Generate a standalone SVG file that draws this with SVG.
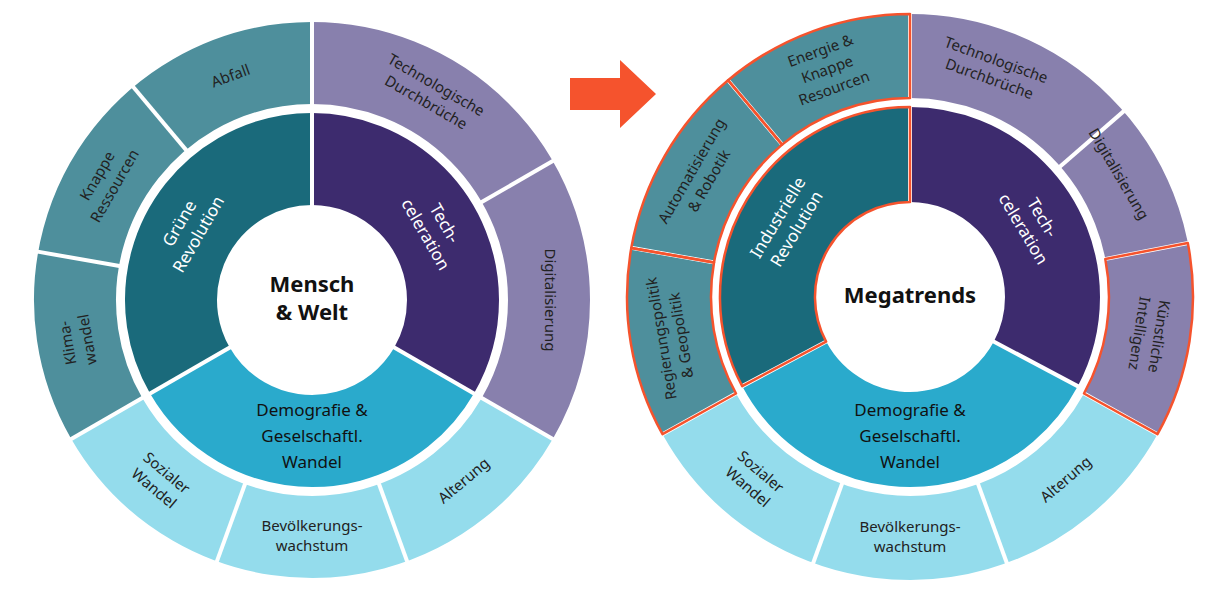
<svg xmlns="http://www.w3.org/2000/svg" width="1228" height="599" viewBox="0 0 1228 599">
<style>
text{font-family:"Noto Sans","Liberation Sans",sans-serif;text-anchor:middle;dominant-baseline:middle}
.o{font-size:15px;fill:#222}
.i{font-size:17px;fill:#fff}
.c{font-size:22px;font-weight:bold;fill:#111}
.sep{stroke:#fff;stroke-width:4}
.hl{fill:none;stroke:#f5532d;stroke-width:2.5;stroke-linejoin:round}
circle.s{fill:none}
</style>
<rect width="1228" height="599" fill="#fff"/>
<!-- LEFT WHEEL -->
<g id="left-inner">
<circle class="s" cx="312" cy="300" r="141" stroke="#3d2b6e" stroke-width="92" pathLength="360" stroke-dasharray="120 240" transform="rotate(-90 312 300)"/>
<circle class="s" cx="312" cy="300" r="141" stroke="#2aaacc" stroke-width="92" pathLength="360" stroke-dasharray="120 240" transform="rotate(30 312 300)"/>
<circle class="s" cx="312" cy="300" r="141" stroke="#1a6a7b" stroke-width="92" pathLength="360" stroke-dasharray="120 240" transform="rotate(150 312 300)"/>
</g>
<g id="left-outer">
<circle class="s" cx="312" cy="300" r="237" stroke="#4e8f9c" stroke-width="82" pathLength="360" stroke-dasharray="120 240" transform="rotate(150 312 300)"/>
<circle class="s" cx="312" cy="300" r="237" stroke="#8880ad" stroke-width="82" pathLength="360" stroke-dasharray="120 240" transform="rotate(-90 312 300)"/>
<circle class="s" cx="312" cy="300" r="237" stroke="#94dcec" stroke-width="82" pathLength="360" stroke-dasharray="120 240" transform="rotate(30 312 300)"/>
</g>
<g id="left-separators">
<g transform="translate(312 300)">
<line class="sep" x1="0" y1="0" x2="190" y2="0" transform="rotate(-90)"/>
<line class="sep" x1="0" y1="0" x2="190" y2="0" transform="rotate(30)"/>
<line class="sep" x1="0" y1="0" x2="190" y2="0" transform="rotate(150)"/>
<line class="sep" x1="194" y1="0" x2="280" y2="0" transform="rotate(-90)"/>
<line class="sep" x1="194" y1="0" x2="280" y2="0" transform="rotate(-30)"/>
<line class="sep" x1="194" y1="0" x2="280" y2="0" transform="rotate(30)"/>
<line class="sep" x1="194" y1="0" x2="280" y2="0" transform="rotate(70)"/>
<line class="sep" x1="194" y1="0" x2="280" y2="0" transform="rotate(110)"/>
<line class="sep" x1="194" y1="0" x2="280" y2="0" transform="rotate(150)"/>
<line class="sep" x1="194" y1="0" x2="280" y2="0" transform="rotate(190)"/>
<line class="sep" x1="194" y1="0" x2="280" y2="0" transform="rotate(230)"/>
</g>
</g>
<g id="left-labels">
<text class="c" x="312" y="286">Mensch</text>
<text class="c" x="312" y="314">&amp; Welt</text>
<g transform="translate(190 229.5) rotate(-60)"><text class="i" y="-11">Grüne</text><text class="i" y="11">Revolution</text></g>
<g transform="translate(434 229.5) rotate(60)"><text class="i" y="-11">Tech-</text><text class="i" y="11">celeration</text></g>
<g transform="translate(312 437)"><text class="i" fill="#111" style="fill:#111" y="-26">Demografie &amp;</text><text class="i" style="fill:#111" y="0">Geselschaftl.</text><text class="i" style="fill:#111" y="26">Wandel</text></g>
<g transform="translate(231 77) rotate(-20)"><text class="o">Abfall</text></g>
<g transform="translate(107 181.5) rotate(-60)"><text class="o" y="-10">Knappe</text><text class="o" y="10">Ressourcen</text></g>
<g transform="translate(78.6 341) rotate(-100)"><text class="o" y="-10">Klima-</text><text class="o" y="10">wandel</text></g>
<g transform="translate(159.6 481.5) rotate(40)"><text class="o" y="-10">Sozialer</text><text class="o" y="10">Wandel</text></g>
<g transform="translate(312 537)"><text class="o" y="-10">Bevölkerungs-</text><text class="o" y="10">wachstum</text></g>
<g transform="translate(464.4 481.5) rotate(-40)"><text class="o">Alterung</text></g>
<g transform="translate(549 300) rotate(90)"><text class="o">Digitalisierung</text></g>
<g transform="translate(430.5 94.7) rotate(30)"><text class="o" y="-10">Technologische</text><text class="o" y="10">Durchbrüche</text></g>
</g>
<!-- ARROW -->
<g id="arrow"><polygon points="570,78 620,78 620,60 656,94 620,128 620,110 570,110" fill="#f5532d"/></g>
<!-- RIGHT WHEEL -->
<g id="right-inner">
<circle class="s" cx="910" cy="297" r="142.5" stroke="#3d2b6e" stroke-width="95" pathLength="360" stroke-dasharray="118 242" transform="rotate(-90 910 297)"/>
<circle class="s" cx="910" cy="297" r="142.5" stroke="#2aaacc" stroke-width="95" pathLength="360" stroke-dasharray="124 236" transform="rotate(28 910 297)"/>
<circle class="s" cx="910" cy="297" r="142.5" stroke="#1a6a7b" stroke-width="95" pathLength="360" stroke-dasharray="118 242" transform="rotate(152 910 297)"/>
</g>
<g id="right-outer">
<circle class="s" cx="910" cy="297" r="241" stroke="#4e8f9c" stroke-width="84" pathLength="360" stroke-dasharray="119 241" transform="rotate(151 910 297)"/>
<circle class="s" cx="910" cy="297" r="241" stroke="#8880ad" stroke-width="84" pathLength="360" stroke-dasharray="119 241" transform="rotate(-90 910 297)"/>
<circle class="s" cx="910" cy="297" r="241" stroke="#94dcec" stroke-width="84" pathLength="360" stroke-dasharray="122 238" transform="rotate(29 910 297)"/>
</g>
<g id="right-separators">
<g transform="translate(910 297)">
<line class="sep" x1="0" y1="0" x2="192" y2="0" transform="rotate(-90)"/>
<line class="sep" x1="0" y1="0" x2="192" y2="0" transform="rotate(28)"/>
<line class="sep" x1="0" y1="0" x2="192" y2="0" transform="rotate(152)"/>
<line class="sep" x1="197" y1="0" x2="286" y2="0" transform="rotate(-90)"/>
<line class="sep" x1="197" y1="0" x2="286" y2="0" transform="rotate(-41)"/>
<line class="sep" x1="197" y1="0" x2="286" y2="0" transform="rotate(-11)"/>
<line class="sep" x1="197" y1="0" x2="286" y2="0" transform="rotate(29)"/>
<line class="sep" x1="197" y1="0" x2="286" y2="0" transform="rotate(70)"/>
<line class="sep" x1="197" y1="0" x2="286" y2="0" transform="rotate(110)"/>
<line class="sep" x1="197" y1="0" x2="286" y2="0" transform="rotate(151)"/>
<line class="sep" x1="197" y1="0" x2="286" y2="0" transform="rotate(190)"/>
<line class="sep" x1="197" y1="0" x2="286" y2="0" transform="rotate(230)"/>
</g>
</g>
<g id="right-highlights">
<path class="hl" d="M728.1,80.2 A283,283 0 0 1 910,14 L910,98 A199,199 0 0 0 782.1,144.6 Z"/>
<path class="hl" d="M631.3,247.9 A283,283 0 0 1 728.1,80.2 L782.1,144.6 A199,199 0 0 0 714,262.5 Z"/>
<path class="hl" d="M662.5,434.2 A283,283 0 0 1 631.3,247.9 L714,262.5 A199,199 0 0 0 736,393.5 Z"/>
<path class="hl" d="M1187.8,243 A283,283 0 0 1 1157.5,434.2 L1084,393.5 A199,199 0 0 0 1105.3,259 Z"/>
<path class="hl" d="M742.2,386.2 A190,190 0 0 1 910,107 L910,202 A95,95 0 0 0 826.1,341.6 Z"/>
</g>
<g id="right-labels">
<text class="c" x="910" y="297">Megatrends</text>
<g transform="translate(788.3 223.9) rotate(-59)"><text class="i" y="-11">Industrielle</text><text class="i" y="11">Revolution</text></g>
<g transform="translate(1031.7 223.9) rotate(59)"><text class="i" y="-11">Tech-</text><text class="i" y="11">celeration</text></g>
<g transform="translate(910 437)"><text class="i" style="fill:#111" y="-26">Demografie &amp;</text><text class="i" style="fill:#111" y="0">Geselschaftl.</text><text class="i" style="fill:#111" y="26">Wandel</text></g>
<g transform="translate(827.6 70.5) rotate(-20)"><text class="o" y="-20">Energie &amp;</text><text class="o" y="0">Knappe</text><text class="o" y="20">Resourcen</text></g>
<g transform="translate(701.3 176.5) rotate(-60)"><text class="o" y="-10">Automatisierung</text><text class="o" y="10">&amp; Robotik</text></g>
<g transform="translate(672.4 336.8) rotate(-99.5)"><text class="o" y="-10">Regierungspolitik</text><text class="o" y="10">&amp; Geopolitik</text></g>
<g transform="translate(753.5 480.2) rotate(40.5)"><text class="o" y="-10">Sozialer</text><text class="o" y="10">Wandel</text></g>
<g transform="translate(910 538)"><text class="o" y="-10">Bevölkerungs-</text><text class="o" y="10">wachstum</text></g>
<g transform="translate(1066.5 480.2) rotate(-40.5)"><text class="o">Alterung</text></g>
<g transform="translate(1148 334.7) rotate(99)"><text class="o" y="-10">Künstliche</text><text class="o" y="10">Intelligenz</text></g>
<g transform="translate(1117.7 174.6) rotate(59.5)"><text class="o">Digitalisierung</text></g>
<g transform="translate(992.4 70.5) rotate(20)"><text class="o" y="-10">Technologische</text><text class="o" y="10">Durchbrüche</text></g>
</g>
</svg>
